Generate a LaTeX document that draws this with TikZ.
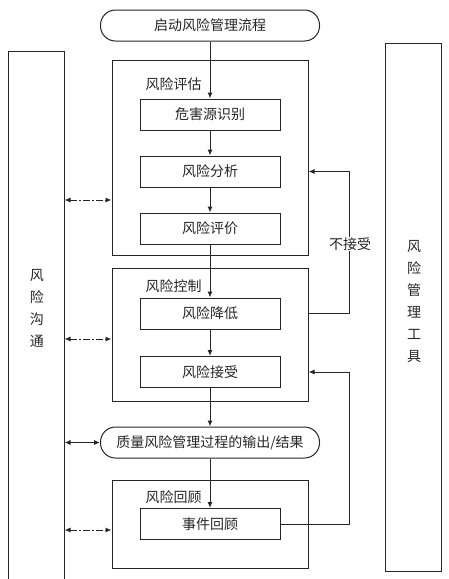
\documentclass[tikz,border=0pt]{standalone}
\usepackage{fontspec}
\newfontfamily\cjk{Noto Sans CJK SC}
\usetikzlibrary{arrows.meta}

\begin{document}
\begin{tikzpicture}[x=1pt,y=-1pt,
  font=\cjk\fontsize{14}{16}\selectfont, color=black!85, line width=1pt,
  box/.style={draw, minimum width=140, minimum height=31, inner sep=0pt},
  group/.style={draw, minimum width=196, inner sep=0pt},
  term/.style={draw, rounded corners=15pt, minimum width=219, minimum height=31, inner sep=0pt},
  lab/.style={anchor=west, inner sep=0pt},
  vtext/.style={align=center, inner sep=0pt, font=\cjk\fontsize{14}{22}\selectfont},
  arr/.style={-{Latex[length=6pt,width=5pt]}},
  dd/.style={{Latex[length=6pt,width=5pt]}-{Latex[length=6pt,width=5pt]}, dash pattern=on 7pt off 2pt on 2pt off 2pt}]
\clip (0,0) rectangle (449,579);
% side columns
\node[draw, minimum width=56, minimum height=549, inner sep=0pt] (comm) at (36,325.5) {};
\node[vtext] (commtext) at (37,308.5) {风\\险\\沟\\通};
\node[draw, minimum width=56, minimum height=528, inner sep=0pt] (tool) at (413,307) {};
\node[vtext] (tooltext) at (414,302) {风\\险\\管\\理\\工\\具};
% main flow
\node[term] (start) at (210,25.5) {启动风险管理流程};
\node[group, minimum height=195] (assess) at (210,157.5) {};
\node[lab] (assesslab) at (145,84) {风险评估};
\node[box] (hazard) at (210,114.5) {危害源识别};
\node[box] (analyse) at (210,171.5) {风险分析};
\node[box] (evaluate) at (210,228.5) {风险评价};
\node[group, minimum height=133] (ctrl) at (210,334.5) {};
\node[lab] (ctrllab) at (145,286) {风险控制};
\node[box] (reduce) at (210,313.5) {风险降低};
\node[box] (accept) at (210,372) {风险接受};
\node[term] (output) at (210,442.5) {质量风险管理过程的输出/结果};
\node[group, minimum height=88] (review) at (210,524) {};
\node[lab] (reviewlab) at (145,497) {风险回顾};
\node[box] (event) at (210,524) {事件回顾};
\draw[arr] (start) -- (hazard);
\draw[arr] (hazard) -- (analyse);
\draw[arr] (analyse) -- (evaluate);
\draw[arr] (evaluate) -- (reduce);
\draw[arr] (reduce) -- (accept);
\draw[arr] (accept) -- (output);
\draw[arr] (output) -- (event);
% feedback loops
\draw[arr] (reduce.east -| ctrl.east) -- ++(41,0) |- (analyse.east -| assess.east);
\node[fill=white, inner sep=1pt] (reject) at (350,244) {不接受};
\draw[arr] (event.east) -- ++(69,0) |- (accept.east -| ctrl.east);
% communication
\draw[dd] (comm.east |- 0,200) -- (assess.west |- 0,200);
\draw[dd] (comm.east |- 0,339) -- (ctrl.west |- 0,339);
\draw[{Latex[length=6pt,width=5pt]}-{Latex[length=6pt,width=5pt]}] (comm.east |- output) -- (output.west);
\draw[dd] (comm.east |- 0,530) -- (review.west |- 0,530);
\end{tikzpicture}
\end{document}
